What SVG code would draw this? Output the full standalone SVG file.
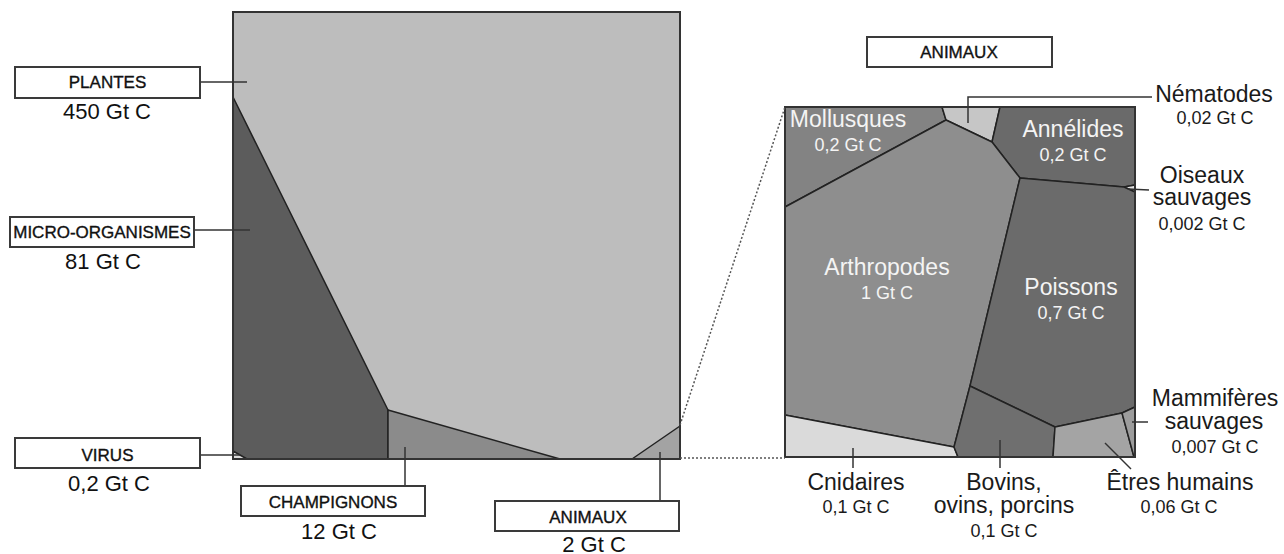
<svg xmlns="http://www.w3.org/2000/svg" width="1284" height="554" viewBox="0 0 1284 554">
<style>
text{font-family:"Liberation Sans",Arial,sans-serif;text-anchor:middle}
.box{fill:#fff;stroke:#3a3a3a;stroke-width:2}
.cap{font-size:17px;fill:#111;stroke:#111;stroke-width:0.35}
.val{font-size:22px;fill:#111}
.reg{stroke:#222;stroke-width:1.5;stroke-linejoin:round}
.frame{fill:none;stroke:#333;stroke-width:2}
.con{fill:none;stroke:#333;stroke-width:1.5}
.dot{fill:none;stroke:#555;stroke-width:1.5;stroke-dasharray:2 2}
.in{font-size:23px;fill:#f4f4f4}
.inv{font-size:18px;fill:#f4f4f4}
.out{font-size:23px;fill:#1a1a1a}
.outv{font-size:18px;fill:#1a1a1a}
</style>
<rect width="1284" height="554" fill="#fff"/>

<g id="biomasse">
  <rect x="233" y="12" width="447" height="447" fill="#bdbdbd"/>
  <polygon class="reg" points="233,97 388,410 388,459 233,459" fill="#5c5c5c"/>
  <polygon class="reg" points="233,451 247,459 233,459" fill="#dcdcdc"/>
  <polygon class="reg" points="388,410 560,459 388,459" fill="#8b8b8b"/>
  <polygon class="reg" points="632,459 680,426 680,459" fill="#a3a3a3"/>
  <rect class="frame" x="233" y="12" width="447" height="447"/>
</g>

<g id="animaux-detail">
  <polygon class="reg" points="785,107 942,107 946,120 785,207" fill="#838383"/>
  <polygon class="reg" points="942,107 1000,107 992,142 946,120" fill="#c6c6c6"/>
  <polygon class="reg" points="1000,107 1135,107 1135,185 1124,187 1020,178 992,142" fill="#6a6a6a"/>
  <polygon class="reg" points="1124,187 1135,185 1135,192" fill="#e2e2e2"/>
  <polygon class="reg" points="785,207 946,120 992,142 1020,178 970,386 954,447 785,415" fill="#8e8e8e"/>
  <polygon class="reg" points="1020,178 1124,187 1135,192 1135,407 1122,413 1055,427 970,386" fill="#6b6b6b"/>
  <polygon class="reg" points="785,415 954,447 958,457 785,457" fill="#dadada"/>
  <polygon class="reg" points="970,386 1055,427 1053,457 958,457 954,447" fill="#6f6f6f"/>
  <polygon class="reg" points="1055,427 1122,413 1134,457 1053,457" fill="#a4a4a4"/>
  <polygon class="reg" points="1122,413 1135,407 1135,457 1134,457" fill="#9c9c9c"/>
  <rect class="frame" x="785" y="107" width="350" height="350"/>
  <text class="in" x="848" y="127">Mollusques</text>
  <text class="inv" x="848" y="151">0,2 Gt C</text>
  <text class="in" x="1073" y="137">Annélides</text>
  <text class="inv" x="1073" y="161">0,2 Gt C</text>
  <text class="in" x="887" y="275">Arthropodes</text>
  <text class="inv" x="887" y="299">1 Gt C</text>
  <text class="in" x="1071" y="295">Poissons</text>
  <text class="inv" x="1071" y="319">0,7 Gt C</text>
</g>

<g id="connectors">
  <path class="con" d="M200,82 H247"/>
  <path class="con" d="M194,230 H250"/>
  <path class="con" d="M200,455 H240"/>
  <path class="con" d="M405,447 V486"/>
  <path class="con" d="M660,452 V501"/>
  <path class="dot" d="M680,425 L785,107"/>
  <path class="dot" d="M680,458 H785"/>
  <path class="con" d="M968,123 V97 H1152"/>
  <path class="con" d="M1128,189 L1149,190"/>
  <path class="con" d="M1132,422 H1148"/>
  <path class="con" d="M1105,443 L1131,469"/>
  <path class="con" d="M853,448 V468"/>
  <path class="con" d="M1000,440 V468"/>
</g>

<g id="plantes">
  <rect class="box" x="15" y="67" width="185" height="31"/>
  <text class="cap" x="107.5" y="88">PLANTES</text>
  <text class="val" x="107" y="119">450 Gt C</text>
</g>
<g id="micro-organismes">
  <rect class="box" x="10" y="217" width="184" height="30"/>
  <text class="cap" x="102" y="238">MICRO-ORGANISMES</text>
  <text class="val" x="103" y="269">81 Gt C</text>
</g>
<g id="virus">
  <rect class="box" x="15" y="438" width="185" height="30"/>
  <text class="cap" x="107.5" y="461">VIRUS</text>
  <text class="val" x="109" y="491">0,2 Gt C</text>
</g>
<g id="champignons">
  <rect class="box" x="241" y="486" width="184" height="30"/>
  <text class="cap" x="333" y="508">CHAMPIGNONS</text>
  <text class="val" x="339" y="539">12 Gt C</text>
</g>
<g id="animaux">
  <rect class="box" x="495" y="501" width="184" height="30"/>
  <text class="cap" x="588" y="523">ANIMAUX</text>
  <text class="val" x="594" y="552">2 Gt C</text>
</g>
<g id="animaux-titre">
  <rect class="box" x="867" y="37" width="185" height="30"/>
  <text class="cap" x="959" y="58">ANIMAUX</text>
</g>

<g id="nematodes">
  <text class="out" x="1214" y="102">Nématodes</text>
  <text class="outv" x="1215" y="124">0,02 Gt C</text>
</g>
<g id="oiseaux">
  <text class="out" x="1202" y="183">Oiseaux</text>
  <text class="out" x="1202" y="205">sauvages</text>
  <text class="outv" x="1202" y="230">0,002 Gt C</text>
</g>
<g id="mammiferes">
  <text class="out" x="1215" y="406">Mammifères</text>
  <text class="out" x="1214" y="429">sauvages</text>
  <text class="outv" x="1215" y="453">0,007 Gt C</text>
</g>
<g id="humains">
  <text class="out" x="1180" y="490">Êtres humains</text>
  <text class="outv" x="1179" y="513">0,06 Gt C</text>
</g>
<g id="cnidaires">
  <text class="out" x="856" y="490">Cnidaires</text>
  <text class="outv" x="856" y="513">0,1 Gt C</text>
</g>
<g id="bovins">
  <text class="out" x="1004" y="490">Bovins,</text>
  <text class="out" x="1004" y="513">ovins, porcins</text>
  <text class="outv" x="1004" y="537">0,1 Gt C</text>
</g>
</svg>
